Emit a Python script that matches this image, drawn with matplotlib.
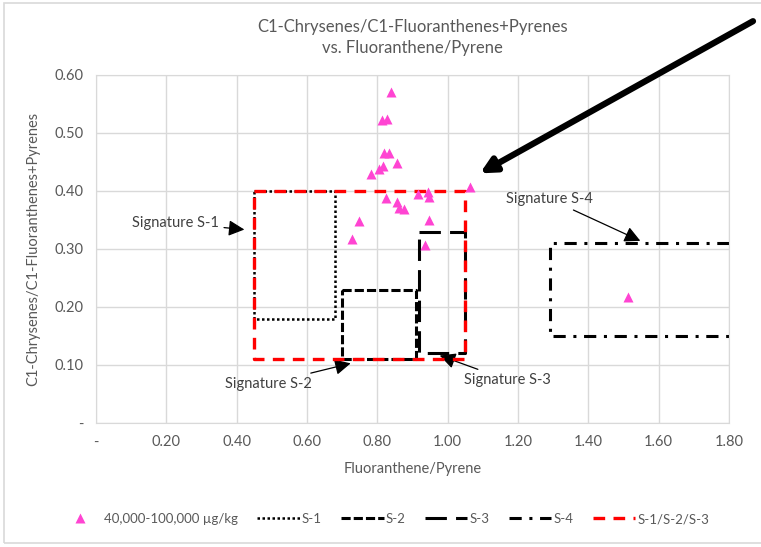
import numpy as np
import matplotlib.pyplot as plt
from matplotlib.patches import Rectangle

plt.rcParams['font.family'] = ['Lato', 'DejaVu Sans']

# sample points (40,000-100,000 ug/kg)
flu_pyr = [0.84, 0.812, 0.827, 0.819, 0.834, 0.857, 0.782, 0.805, 0.817, 1.063,
           0.824, 0.857, 0.862, 0.877, 0.915, 0.945, 0.947, 0.749, 0.727, 0.947,
           0.937, 1.514]
c1_ratio = [0.570, 0.522, 0.524, 0.466, 0.465, 0.448, 0.430, 0.437, 0.443, 0.406,
            0.387, 0.381, 0.371, 0.369, 0.394, 0.399, 0.390, 0.348, 0.317, 0.350,
            0.306, 0.218]

# signature boxes: x0, x1, y0, y1
s1 = [0.45, 0.68, 0.18, 0.40]
s2 = [0.70, 0.91, 0.11, 0.23]
s3 = [0.92, 1.05, 0.12, 0.33]
s4 = [1.29, 1.80, 0.15, 0.31]
s123 = [0.45, 1.05, 0.11, 0.40]

xticks = [0, 0.2, 0.4, 0.6, 0.8, 1.0, 1.2, 1.4, 1.6, 1.8]
yticks = [0, 0.1, 0.2, 0.3, 0.4, 0.5, 0.6]

txt = '#595959'
fig = plt.figure(figsize=(7.61, 5.47), dpi=100)
ax = fig.add_axes([0.126, 0.2267, 0.832, 0.6363])

def box(b, **kw):
    x0, x1, y0, y1 = b
    return ax.plot([x0, x1, x1, x0, x0], [y1, y1, y0, y0, y1], **kw)[0]

h_pts, = ax.plot(flu_pyr, c1_ratio, '^', color='#FF44D2', ms=7, mec='none', zorder=5)
h1 = box(s1, color='black', lw=1.8, ls=(0, (1, 1)))
h2 = box(s2, color='black', lw=2.2, ls=(0, (3, 1)))
h3 = box(s3, color='black', lw=2.2, ls=(0, (7, 3)))
# S-4 is open on the right
x0, x1, y0, y1 = s4
h4, = ax.plot([x1, x0, x0, x1], [y1, y1, y0, y0], color='black', lw=2.2,
              ls=(0, (4, 2.5, 1, 2.5)))
h5 = box(s123, color='#FF0000', lw=2.4, ls=(0, (3.5, 2.5)), zorder=4)

ax.set_xlim(0, 1.8)
ax.set_ylim(0, 0.6)
ax.set_xticks(xticks)
ax.set_yticks(yticks)
ax.set_xticklabels(['-'] + ['%.2f' % v for v in xticks[1:]])
ax.set_yticklabels(['-'] + ['%.2f' % v for v in yticks[1:]])
ax.tick_params(length=0, labelsize=10.5, colors=txt, pad=9)
ax.grid(True, color='#D9D9D9', lw=1)
ax.set_axisbelow(True)
for s in ax.spines.values():
    s.set_color('#D9D9D9')

ax.set_title('C1-Chrysenes/C1-Fluoranthenes+Pyrenes\nvs. Fluoranthene/Pyrene',
             fontsize=12, color=txt, pad=16, linespacing=1.35)
ax.set_xlabel('Fluoranthene/Pyrene', fontsize=10.5, color=txt, labelpad=9)
ax.set_ylabel('C1-Chrysenes/C1-Fluoranthenes+Pyrenes', fontsize=10.5, color=txt, labelpad=10)

small = dict(arrowstyle='-|>,head_length=0.6,head_width=0.3', color='black',
             lw=0.9, mutation_scale=16)
lab = dict(ha='center', va='center', fontsize=10.5, color='#404040', arrowprops=small)
ax.annotate('Signature S-1', xy=(0.43, 0.333), xytext=(0.225, 0.345), **lab)
ax.annotate('Signature S-2', xy=(0.732, 0.104), xytext=(0.49, 0.068), **lab)
ax.annotate('Signature S-3', xy=(0.97, 0.118), xytext=(1.17, 0.074), **lab)
ax.annotate('Signature S-4', xy=(1.555, 0.312), xytext=(1.29, 0.386), **lab)
ax.annotate('', xy=(1.085, 0.428), xytext=(1.875, 0.695), annotation_clip=False,
            arrowprops=dict(arrowstyle='-|>,head_length=0.9,head_width=0.45',
                            color='black', lw=4.5))

fig.legend([h_pts, h1, h2, h3, h4, h5],
           ['40,000-100,000 µg/kg', 'S-1', 'S-2', 'S-3', 'S-4', 'S-1/S-2/S-3'],
           loc='center', bbox_to_anchor=(0.505, 0.051), ncol=6, frameon=False,
           fontsize=9.5, labelcolor=txt, handlelength=3.2, columnspacing=1.5,
           handletextpad=0.15)

fig.patches.append(Rectangle((4 / 761, 1 - 543 / 547), 1.0, 540 / 547,
                             transform=fig.transFigure, fill=False,
                             ec='#D9D9D9', lw=1.2))

fig.savefig('out.png', dpi=100)
